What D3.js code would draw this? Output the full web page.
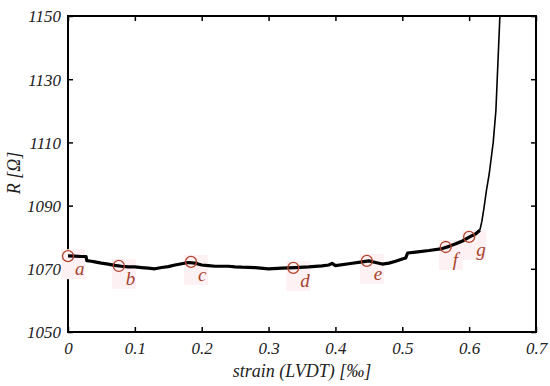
<!DOCTYPE html>
<html>
<head>
<meta charset="utf-8">
<script src="https://cdn.jsdelivr.net/npm/d3@7"></script>
<style>
  body { margin: 0; background: #fff; }
</style>
</head>
<body>
<script>
// strain (LVDT) [‰] vs resistance R [Ω]
var strain = [0, 0.01, 0.02, 0.027, 0.028, 0.035, 0.04, 0.05, 0.06, 0.07, 0.08, 0.09, 0.1, 0.11, 0.12, 0.13,
  0.14, 0.15, 0.16, 0.17, 0.18, 0.19, 0.2, 0.21, 0.22, 0.24, 0.25, 0.26, 0.28, 0.3, 0.32, 0.34,
  0.36, 0.38, 0.39, 0.395, 0.4, 0.42, 0.44, 0.45, 0.46, 0.47, 0.48, 0.49, 0.5, 0.505, 0.508, 0.52,
  0.54, 0.56, 0.57, 0.58, 0.59, 0.6, 0.61, 0.616, 0.619, 0.622, 0.626, 0.63, 0.636, 0.64, 0.642, 0.644, 0.646];
var resistance = [1074.1, 1074, 1073.9, 1073.9, 1072.6, 1072.4, 1072.2, 1071.8, 1071.5, 1071.1, 1070.8, 1070.6, 1070.6, 1070.4, 1070.2, 1070,
  1070.4, 1070.7, 1071.2, 1071.6, 1072, 1071.8, 1071.2, 1071, 1070.8, 1070.8, 1070.6, 1070.5, 1070.4, 1070, 1070.2, 1070.4,
  1070.6, 1070.9, 1071.2, 1071.7, 1071, 1071.6, 1072.2, 1072.5, 1072, 1071.5, 1071.8, 1072.4, 1073.1, 1073.4, 1075, 1075.3,
  1075.8, 1076.4, 1077.1, 1077.9, 1078.8, 1080, 1081.1, 1082.2, 1085, 1089, 1095, 1100, 1110, 1120, 1130, 1140, 1150];

// marked states a-g
var markLabels = ["a", "b", "c", "d", "e", "f", "g"];
var markStrain = [0, 0.076, 0.184, 0.337, 0.447, 0.565, 0.6];
var markR = [1074, 1070.9, 1072.2, 1070.3, 1072.5, 1076.9, 1080.1];

var xTicks = [0, 0.1, 0.2, 0.3, 0.4, 0.5, 0.6, 0.7];
var yTicks = [1050, 1070, 1090, 1110, 1130, 1150];

var serif = "'Liberation Serif', serif";

var margin = {top: 16, right: 14, bottom: 54, left: 68},
    width = 550 - margin.left - margin.right,
    height = 386 - margin.top - margin.bottom;

var x = d3.scaleLinear().domain([0, 0.7]).range([0, width]);
var y = d3.scaleLinear().domain([1050, 1150]).range([height, 0]);

var svg = d3.select("body").append("svg")
    .attr("width", 550)
    .attr("height", 386),
  g = svg.append("g")
    .attr("transform", "translate(" + margin.left + "," + margin.top + ")");

g.append("clipPath").attr("id", "plot")
  .append("rect").attr("width", width).attr("height", height);

var fmt = function(d) { return d === 0 ? "0" : d3.format(".1f")(d); };

// axes with inward ticks on all four sides
var axBottom = g.append("g").attr("transform", "translate(0," + height + ")")
    .call(d3.axisBottom(x).tickValues(xTicks).tickSizeInner(-5).tickSizeOuter(0).tickPadding(10).tickFormat(fmt));
var axTop = g.append("g")
    .call(d3.axisTop(x).tickValues(xTicks).tickSizeInner(-5).tickSizeOuter(0).tickFormat(""));
var axLeft = g.append("g")
    .call(d3.axisLeft(y).tickValues(yTicks).tickSizeInner(-5).tickSizeOuter(0).tickPadding(7).tickFormat(d3.format("d")));
var axRight = g.append("g").attr("transform", "translate(" + width + ",0)")
    .call(d3.axisRight(y).tickValues(yTicks).tickSizeInner(-5).tickSizeOuter(0).tickFormat(""));

[axBottom, axTop, axLeft, axRight].forEach(function(a) {
  a.select(".domain").remove();
  a.selectAll("line").attr("stroke", "#000").attr("stroke-width", 1.5);
  a.selectAll("text").attr("fill", "#222")
    .style("font-family", serif).style("font-style", "italic").style("font-size", "17px");
});
axLeft.selectAll("text").attr("dy", "0.35em");

g.append("rect")
  .attr("width", width).attr("height", height)
  .attr("fill", "none").attr("stroke", "#000").attr("stroke-width", 2);

// pink highlight boxes behind markers
var marks = markLabels.map(function(l, i) { return {label: l, sx: markStrain[i], r: markR[i]}; });
g.selectAll(".hl").data(marks).enter().append("rect")
  .attr("class", "hl")
  .attr("x", function(d) { return x(d.sx) - 7; })
  .attr("y", function(d) { return y(d.r) - 7; })
  .attr("width", 24).attr("height", 30)
  .attr("fill", "#fdf1f4");

var pts = strain.map(function(s, i) { return [s, resistance[i]]; });
var line = d3.line().x(function(d) { return x(d[0]); }).y(function(d) { return y(d[1]); });
var cut = strain.indexOf(0.616);

g.append("path").datum(pts.slice(0, cut + 1))
  .attr("clip-path", "url(#plot)")
  .attr("d", line).attr("fill", "none").attr("stroke", "#000")
  .attr("stroke-width", 3.2).attr("stroke-linejoin", "round");
g.append("path").datum(pts.slice(cut))
  .attr("clip-path", "url(#plot)")
  .attr("d", line).attr("fill", "none").attr("stroke", "#000")
  .attr("stroke-width", 1.6).attr("stroke-linejoin", "round");

g.selectAll(".mk").data(marks).enter().append("circle")
  .attr("class", "mk")
  .attr("cx", function(d) { return x(d.sx); })
  .attr("cy", function(d) { return y(d.r); })
  .attr("r", 5.5)
  .attr("fill", "none").attr("stroke", "#b2452e").attr("stroke-width", 1.3);

g.selectAll(".ml").data(marks).enter().append("text")
  .attr("class", "ml")
  .attr("x", function(d) { return x(d.sx) + 7; })
  .attr("y", function(d) { return y(d.r) + 19; })
  .attr("fill", "#a8442c")
  .style("font-family", serif).style("font-style", "italic").style("font-size", "19px")
  .text(function(d) { return d.label; });

svg.append("text")
  .attr("x", margin.left + width / 2).attr("y", 377)
  .attr("text-anchor", "middle").attr("fill", "#222")
  .style("font-family", serif).style("font-style", "italic").style("font-size", "18px")
  .text("strain (LVDT) [‰]");

svg.append("text")
  .attr("transform", "translate(20," + (margin.top + height / 2 - 1) + ") rotate(-90)")
  .attr("text-anchor", "middle").attr("fill", "#222")
  .style("font-family", serif).style("font-style", "italic").style("font-size", "18px")
  .text("R [Ω]");
</script>
</body>
</html>
